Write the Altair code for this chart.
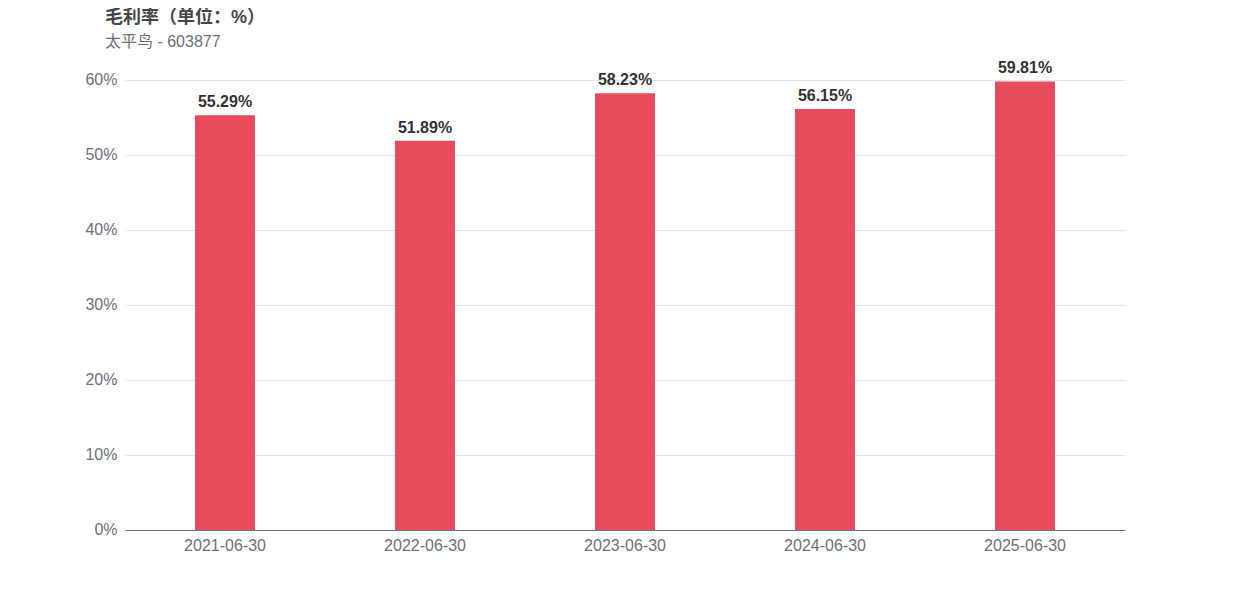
import altair as alt
import pandas as pd

dates = ["2021-06-30", "2022-06-30", "2023-06-30", "2024-06-30", "2025-06-30"]
margins = [55.29, 51.89, 58.23, 56.15, 59.81]
labels = ["55.29%", "51.89%", "58.23%", "56.15%", "59.81%"]

df = pd.DataFrame({"date": dates, "margin": margins, "label": labels})

FONT = "Liberation Sans, Arial, Noto Sans CJK SC, sans-serif"

x = alt.X("date:N", sort=dates, title=None,
          scale=alt.Scale(paddingInner=0.7, paddingOuter=0.35),
          axis=alt.Axis(labelAngle=0, labelFontSize=16, labelColor="#6e7079",
                        labelFont=FONT, ticks=False, domainColor="#6e7079",
                        labelPadding=7, grid=False))
y = alt.Y("margin:Q", title=None,
          scale=alt.Scale(domain=[0, 60], nice=False),
          axis=alt.Axis(values=[0, 10, 20, 30, 40, 50, 60],
                        labelExpr="datum.value + '%'",
                        labelFontSize=16, labelColor="#6e7079", labelFont=FONT,
                        ticks=False, domain=False, gridColor="#e0e6f1",
                        labelPadding=8, labelOffset=-1))

bars = alt.Chart(df).mark_bar(color="#e64b5e").encode(x=x, y=y)
text = alt.Chart(df).mark_text(baseline="bottom", dy=-5, fontSize=16,
                               fontWeight="bold", color="#333333",
                               font=FONT).encode(
    x=alt.X("date:N", sort=dates), y="margin:Q", text="label:N")

chart = alt.layer(bars, text).properties(
    width=1000, height=450,
    padding={"left": 117, "top": 72, "right": 100, "bottom": 60},
    autosize=alt.AutoSizeParams(type="none"),
    title=alt.TitleParams(
        text="毛利率（单位：%）", subtitle="太平鸟 - 603877",
        anchor="start", frame="group", dx=-20, offset=10,
        font=FONT, fontSize=18, fontWeight="bold", color="#464646",
        subtitleFont=FONT, subtitleFontSize=16, subtitleColor="#6e7079",
        subtitlePadding=7),
).configure_view(stroke=None)

chart.save("out.html", embed_options={"renderer": "svg", "actions": False})
